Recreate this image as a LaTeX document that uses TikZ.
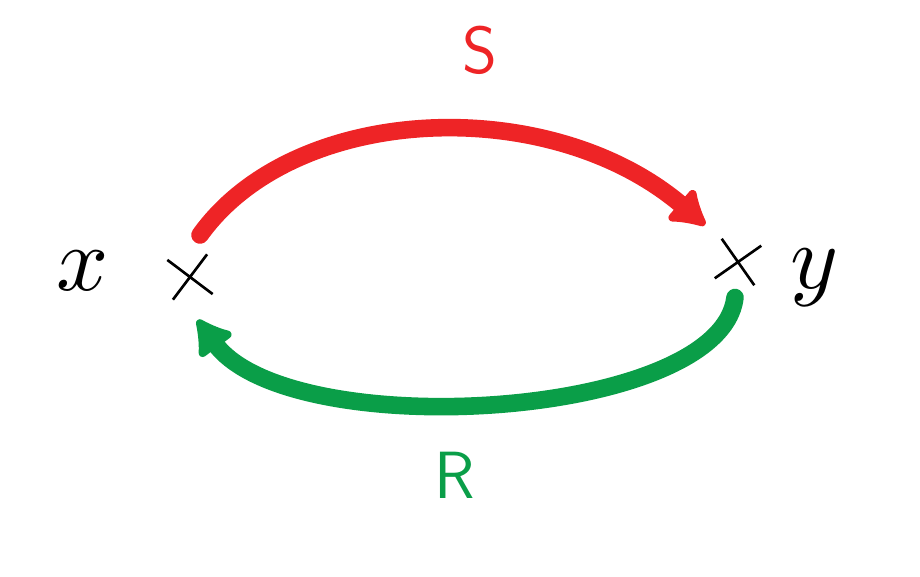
\documentclass[tikz,border=0pt]{standalone}
\usetikzlibrary{arrows.meta,shapes.misc}
\definecolor{sred}{RGB}{238,36,38}
\definecolor{rgreen}{RGB}{10,158,72}
\tikzset{
  crossmark/.style={cross out, draw=black, line width=1.5pt, minimum size=0.75cm, inner sep=0pt, transform shape},
  letter/.style={scale=5.2, transform shape},
  brush/.style={line width=10pt, line cap=round, -{Latex[round, length=0.8cm, width=1.0cm]}}
}
\begin{document}
\begin{tikzpicture}
\useasboundingbox (0,0) rectangle (18.4,-11.52);

\node[crossmark, rotate=8] (px) at (3.8,-5.54) {};
\node[crossmark, rotate=-10] (py) at (14.76,-5.24) {};

\node[letter] at (1.65,-5.42) (lx) {$x$};
\node[letter] at (16.3,-5.55) (ly) {$y$};

\node[text=sred] at (9.6,-1.0) (ls) {\fontsize{38}{42}\selectfont\sffamily S};
\node[text=rgreen] at (9.1,-9.5) (lr) {\fontsize{38}{42}\selectfont\sffamily R};

\coordinate (s1) at (4.0,-4.7);
\coordinate (s2) at (14.1,-4.5);
\coordinate (r1) at (14.7,-5.95);
\coordinate (r2) at (3.95,-6.4);

\draw[brush, sred] (s1)
        .. controls (5.9,-2.05) and (11.0,-1.85) ..
        (s2);
\draw[brush, rgreen] (r1)
        .. controls (14.4,-8.4) and (5.8,-8.9) ..
        (r2);

\end{tikzpicture}
\end{document}
